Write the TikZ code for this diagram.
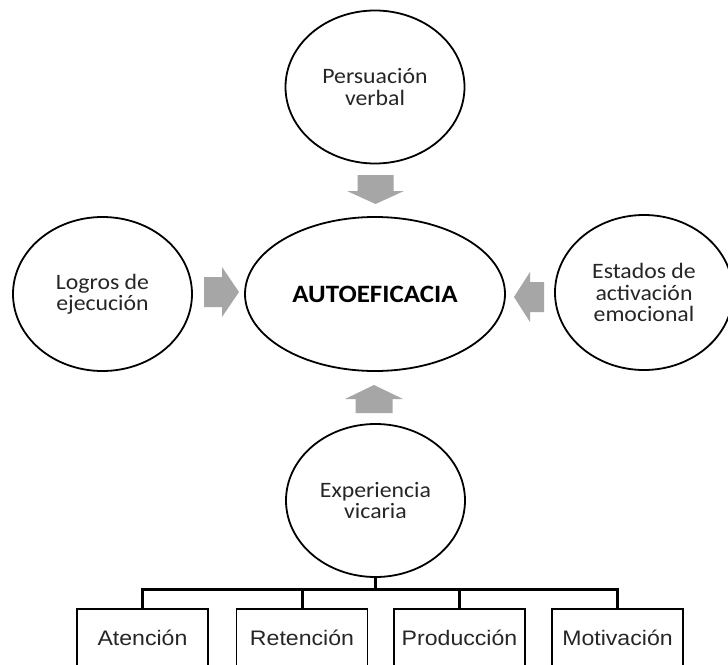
\documentclass[tikz,border=0pt]{standalone}
\usepackage{fontspec}
\usetikzlibrary{shapes.geometric}
\newfontfamily\bubblefont[FakeStretch=1.08]{Carlito}
\newfontfamily\boxfont[FakeStretch=1.1]{Liberation Sans}

\definecolor{inkgray}{HTML}{262626}
\definecolor{arrowgray}{HTML}{A6A6A6}

\tikzset{
  bubble/.style={ellipse, draw=black, line width=1.8pt, inner sep=0pt,
    align=center, text=inkgray, font=\bubblefont\fontsize{22}{21.5}\selectfont},
  stagebox/.style={rectangle, draw=black, line width=1.8pt, inner sep=0pt,
    minimum width=131, minimum height=58, text=inkgray,
    font=\boxfont\fontsize{21}{24}\selectfont},
  busline/.style={draw=black, line width=3pt, line join=miter},
  arrowfill/.style={fill=arrowgray},
  % block arrow pointing along +x, tip at the origin:
  % total length / head length / shaft half-width / head half-width
  pics/blockarrow/.style args={#1/#2/#3/#4}{code={
    \fill[arrowfill] (0,0) -- (-#2,#4) -- (-#2,#3) -- (-#1,#3)
      -- (-#1,-#3) -- (-#2,-#3) -- (-#2,-#4) -- cycle;
  }},
}

\begin{document}
\begin{tikzpicture}[x=1pt,y=-1pt]
\clip (0,0) rectangle (728,664);
\fill[white] (0,0) rectangle (728,664);

% central concept
\node[bubble, minimum width=260, minimum height=154,
      font=\bubblefont\bfseries\fontsize{25}{28}\selectfont, text=black]
  (auto) at (375,294) {AUTOEFICACIA};

% four sources
\node[bubble, minimum width=179, minimum height=153] (pers) at (375,87)
  {Persuación\\verbal};
\node[bubble, minimum width=179, minimum height=154] (logros) at (102.5,294)
  {Logros de\\ejecución};
\node[bubble, minimum width=178, minimum height=155] (estados) at (644,292.5)
  {Estados de\\activación\\emocional};
\node[bubble, minimum width=179, minimum height=153] (exper) at (375.5,500.5)
  {Experiencia\\vicaria};

% block arrows into the centre
\pic[rotate=-90] at (375.5,204) {blockarrow=29/13/18/28.5};
\pic[rotate=0]   at (239,292)   {blockarrow=35/17/15/25};
\pic[rotate=180] at (514,297)   {blockarrow=30/16/15/25};
\pic[rotate=90]  at (374,385)   {blockarrow=28/14/18.5/29};

% sub-processes of vicarious experience
\node[stagebox] (aten) at (142.5,638) {Atención};
\node[stagebox] (rete) at (302,638)   {Retención};
\node[stagebox] (prod) at (459.5,638) {Producción};
\node[stagebox] (moti) at (617.5,638) {Motivación};

\coordinate (bus) at (376,589);
\draw[busline] (exper.south) -- (exper.south |- bus);
\draw[busline] (aten.north) -- (aten.north |- bus) -- (moti.north |- bus) -- (moti.north);
\draw[busline] (rete.north) -- (rete.north |- bus);
\draw[busline] (prod.north) -- (prod.north |- bus);
\end{tikzpicture}
\end{document}
